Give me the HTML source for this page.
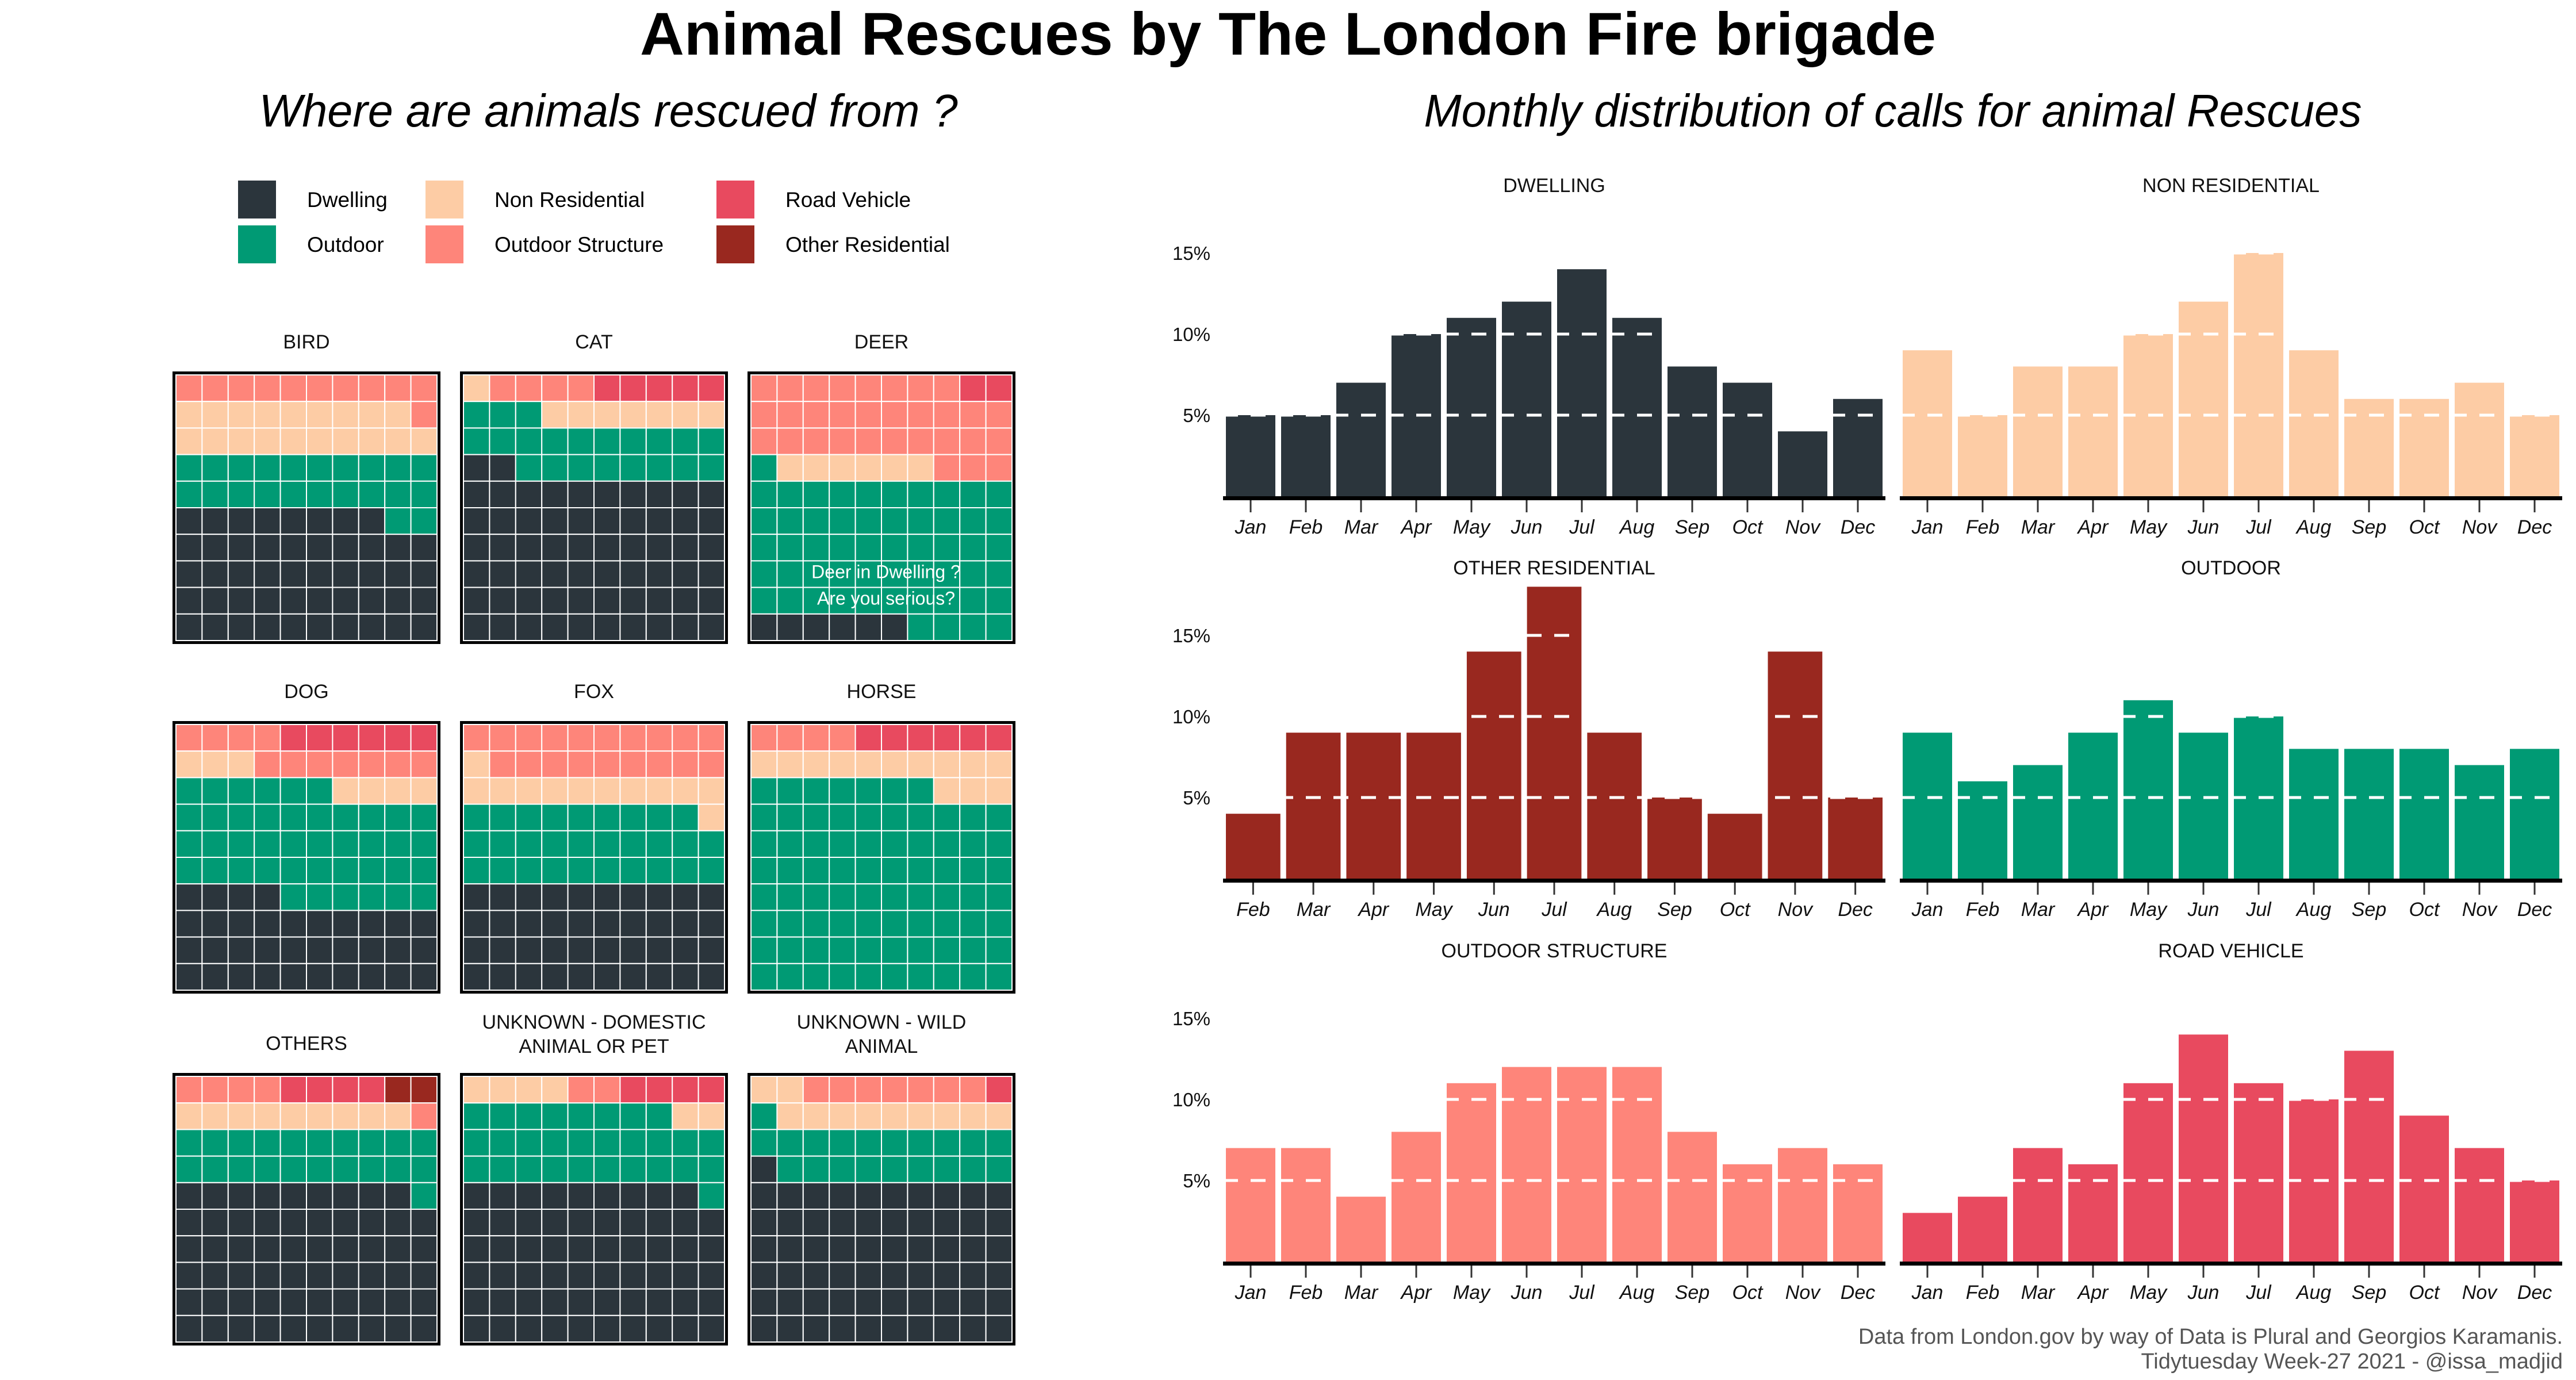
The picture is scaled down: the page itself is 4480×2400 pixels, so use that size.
<!DOCTYPE html>
<html><head><meta charset="utf-8">
<style>
html,body{margin:0;padding:0;background:#fff;}
svg{display:block;font-family:"Liberation Sans",sans-serif;}
</style></head>
<body>
<svg id="root" width="4480" height="2400" viewBox="0 0 4480 2400" xmlns="http://www.w3.org/2000/svg">
<rect width="4480" height="2400" fill="#fff"/>
<text x="2240" y="95" text-anchor="middle" font-size="105" font-weight="bold" fill="#000" textLength="2254" lengthAdjust="spacingAndGlyphs">Animal Rescues by The London Fire brigade</text>
<text x="1058" y="220" text-anchor="middle" font-size="80" font-style="italic" fill="#000" textLength="1215" lengthAdjust="spacingAndGlyphs">Where are animals rescued from ?</text>
<text x="3292" y="220" text-anchor="middle" font-size="80" font-style="italic" fill="#000" textLength="1631" lengthAdjust="spacingAndGlyphs">Monthly distribution of calls for animal Rescues</text>
<g id="legend"></g>
<g id="waffles"></g>
<g id="bars"></g>
<text x="4457" y="2337" text-anchor="end" font-size="38" fill="#555">Data from London.gov by way of Data is Plural and Georgios Karamanis.</text>
<text x="4457" y="2380" text-anchor="end" font-size="38" fill="#555">Tidytuesday Week-27 2021 - @issa_madjid</text>
</svg>
<script>
// ---- data ----
const categoryKeys = ['D','O','N','S','R','X'];
const categoryNames = ['Dwelling','Outdoor','Non Residential','Outdoor Structure','Road Vehicle','Other Residential'];
const categoryColors = ['#2b353c','#009a74','#fdcca5','#fe857a','#e84a5f','#99281f'];

const animals = ['BIRD','CAT','DEER','DOG','FOX','HORSE','OTHERS','UNKNOWN - DOMESTIC|ANIMAL OR PET','UNKNOWN - WILD|ANIMAL'];
const waffleBird  = ['SSSSSSSSSS','NNNNNNNNNS','NNNNNNNNNN','OOOOOOOOOO','OOOOOOOOOO','DDDDDDDDOO','DDDDDDDDDD','DDDDDDDDDD','DDDDDDDDDD','DDDDDDDDDD'];
const waffleCat   = ['NSSSSRRRRR','OOONNNNNNN','OOOOOOOOOO','DDOOOOOOOO','DDDDDDDDDD','DDDDDDDDDD','DDDDDDDDDD','DDDDDDDDDD','DDDDDDDDDD','DDDDDDDDDD'];
const waffleDeer  = ['SSSSSSSSRR','SSSSSSSSSS','SSSSSSSSSS','ONNNNNNSSS','OOOOOOOOOO','OOOOOOOOOO','OOOOOOOOOO','OOOOOOOOOO','OOOOOOOOOO','DDDDDDOOOO'];
const waffleDog   = ['SSSSRRRRRR','NNNSSSSSSS','OOOOOONNNN','OOOOOOOOOO','OOOOOOOOOO','OOOOOOOOOO','DDDDOOOOOO','DDDDDDDDDD','DDDDDDDDDD','DDDDDDDDDD'];
const waffleFox   = ['SSSSSSSSSS','NSSSSSSSSS','NNNNNNNNNN','OOOOOOOOON','OOOOOOOOOO','OOOOOOOOOO','DDDDDDDDDD','DDDDDDDDDD','DDDDDDDDDD','DDDDDDDDDD'];
const waffleHorse = ['SSSSRRRRRR','NNNNNNNNNN','OOOOOOONNN','OOOOOOOOOO','OOOOOOOOOO','OOOOOOOOOO','OOOOOOOOOO','OOOOOOOOOO','OOOOOOOOOO','OOOOOOOOOO'];
const waffleOthers= ['SSSSRRRRXX','NNNNNNNNNS','OOOOOOOOOO','OOOOOOOOOO','DDDDDDDDDO','DDDDDDDDDD','DDDDDDDDDD','DDDDDDDDDD','DDDDDDDDDD','DDDDDDDDDD'];
const waffleUnkDom= ['NNNNSSRRRR','OOOOOOOONN','OOOOOOOOOO','OOOOOOOOOO','DDDDDDDDDO','DDDDDDDDDD','DDDDDDDDDD','DDDDDDDDDD','DDDDDDDDDD','DDDDDDDDDD'];
const waffleUnkWild=['NNSSSSSSSR','ONNNNNNNNN','OOOOOOOOOO','DOOOOOOOOO','DDDDDDDDDD','DDDDDDDDDD','DDDDDDDDDD','DDDDDDDDDD','DDDDDDDDDD','DDDDDDDDDD'];
const waffleGrids = [waffleBird,waffleCat,waffleDeer,waffleDog,waffleFox,waffleHorse,waffleOthers,waffleUnkDom,waffleUnkWild];

const monthsAll = ['Jan','Feb','Mar','Apr','May','Jun','Jul','Aug','Sep','Oct','Nov','Dec'];
const monthsNoJan = ['Feb','Mar','Apr','May','Jun','Jul','Aug','Sep','Oct','Nov','Dec'];
const barTitles = ['DWELLING','NON RESIDENTIAL','OTHER RESIDENTIAL','OUTDOOR','OUTDOOR STRUCTURE','ROAD VEHICLE'];
const valsDwelling = [5,5,7,10,11,12,14,11,8,7,4,6];
const valsNonRes   = [9,5,8,8,10,12,15,9,6,6,7,5];
const valsOtherRes = [4,9,9,9,14,18,9,5,4,14,5];
const valsOutdoor  = [9,6,7,9,11,9,10,8,8,8,7,8];
const valsOutStruct= [7,7,4,8,11,12,12,12,8,6,7,6];
const valsRoad     = [3,4,7,6,11,14,11,10,13,9,7,5];
const yTicks = [5,10,15];
const yTickLabels = ['5%','10%','15%'];

// ---- helpers ----
const NS='http://www.w3.org/2000/svg';
function mk(tag, attrs, parent){const e=document.createElementNS(NS,tag);for(const k in attrs)e.setAttribute(k,attrs[k]);parent.appendChild(e);return e;}
const colorOf = k => categoryColors[categoryKeys.indexOf(k)];

// ---- legend ----
const lg=document.getElementById('legend');
const legCols=[414,740,1246], legRows=[314,392];
const legOrder=[[0,0],[1,0],[0,1],[1,1],[0,2],[1,2]]; // [row,col] for categories D,O,N,S,R,X
categoryKeys.forEach((k,i)=>{
  const [r,c]=legOrder[i];
  const sw=mk('rect',{x:legCols[c],y:legRows[r],width:66,height:66,fill:categoryColors[i]},lg);
  
  
  const t=mk('text',{x:legCols[c]+120,y:legRows[r]+46,'font-size':37,fill:'#000'},lg);
  t.textContent=categoryNames[i];
  
  
});

// ---- waffles ----
const wg=document.getElementById('waffles');
const pX=[300,800,1300], pY=[646,1254,1866], pW=466, pH=474, bw=6;
animals.forEach((name,ai)=>{
  const col=ai%3,row=Math.floor(ai/3);
  const x0=pX[col], y0=pY[row];
  const g=mk('g',{},wg);
  
  
  const lines=name.split('|');
  const cx=x0+pW/2;
  if(lines.length===1){
    const t=mk('text',{x:cx,y:pY[row]-40,'text-anchor':'middle','font-size':34,fill:'#111'},g);t.textContent=lines[0];
    
    
  } else {
    lines.forEach((ln,li)=>{const t=mk('text',{x:cx,y:pY[row]-77+li*42,'text-anchor':'middle','font-size':34,fill:'#111'},g);t.textContent=ln;
      
      });
  }
  const bg=mk('rect',{x:x0,y:y0,width:pW,height:pH,fill:'#000'},g);
  
  
  const iw=pW-2*bw, ih=pH-2*bw, cw=iw/10, ch=ih/10;
  const grid=waffleGrids[ai];
  grid.forEach((rowStr,ri)=>{
    for(let ci=0;ci<10;ci++){
      const c=mk('rect',{x:x0+bw+ci*cw,y:y0+bw+ri*ch,width:cw,height:ch,fill:colorOf(rowStr[ci]),stroke:'#fff','stroke-width':2},g);
      
      
    }
  });
  if(name==='DEER'){
    ['Deer in Dwelling ?','Are you serious?'].forEach((s,si)=>{
      const t=mk('text',{x:x0+pW/2+8,y:y0+bw+ch*7.65+si*ch,'text-anchor':'middle','font-size':32,fill:'#fff'},g);t.textContent=s;
      
      
    });
  }
});

// ---- bar charts ----
const bgp=document.getElementById('bars');
const chartX=[2127,3304], chartW=1152, baselines=[863,1528,2194], pxPerPct=28.2;
const barSets=[valsDwelling,valsNonRes,valsOtherRes,valsOutdoor,valsOutStruct,valsRoad];
const barColors=['#2b353c','#fdcca5','#99281f','#009a74','#fe857a','#e84a5f'];
barSets.forEach((vals,bi)=>{
  const col=bi%2,row=Math.floor(bi/2);
  const x0=chartX[col], base=baselines[row];
  const months = vals.length===11 ? monthsNoJan : monthsAll;
  const band=chartW/months.length, gap=10;
  const xS=i=>x0+i*band;
  const yS=v=>base-v*pxPerPct;
  const g=mk('g',{},bgp);
  
  
  const tt=mk('text',{x:x0+chartW/2,y:base-529,'text-anchor':'middle','font-size':34,fill:'#111'},g);
  tt.textContent=barTitles[bi];
  
  
  vals.forEach((v,i)=>{
    const r=mk('rect',{x:xS(i)+gap/2,y:yS(v),width:band-gap,height:v*pxPerPct,fill:barColors[bi]},g);
    
    
  });
  yTicks.forEach((t,ti)=>{
    const l=mk('line',{x1:x0,x2:x0+chartW,y1:yS(t),y2:yS(t),stroke:'#fff','stroke-width':5,'stroke-dasharray':'26 22'},g);
    
    
    if(col===0){
      const lb=mk('text',{x:x0-22,y:yS(t)+12,'text-anchor':'end','font-size':33,fill:'#111'},g);
      lb.textContent=yTickLabels[ti];
      
      
    }
  });
  const ax=mk('rect',{x:x0,y:base,width:chartW,height:7,fill:'#000'},g);
  
  
  months.forEach((m,i)=>{
    const cx=xS(i)+band/2;
    const tk=mk('line',{x1:cx,x2:cx,y1:base+7,y2:base+28,stroke:'#333','stroke-width':3},g);
    
    
    const lb=mk('text',{x:cx,y:base+65,'text-anchor':'middle','font-size':34,'font-style':'italic',fill:'#111'},g);
    lb.textContent=m;
    
    
  });
});
</script>
</body></html>
